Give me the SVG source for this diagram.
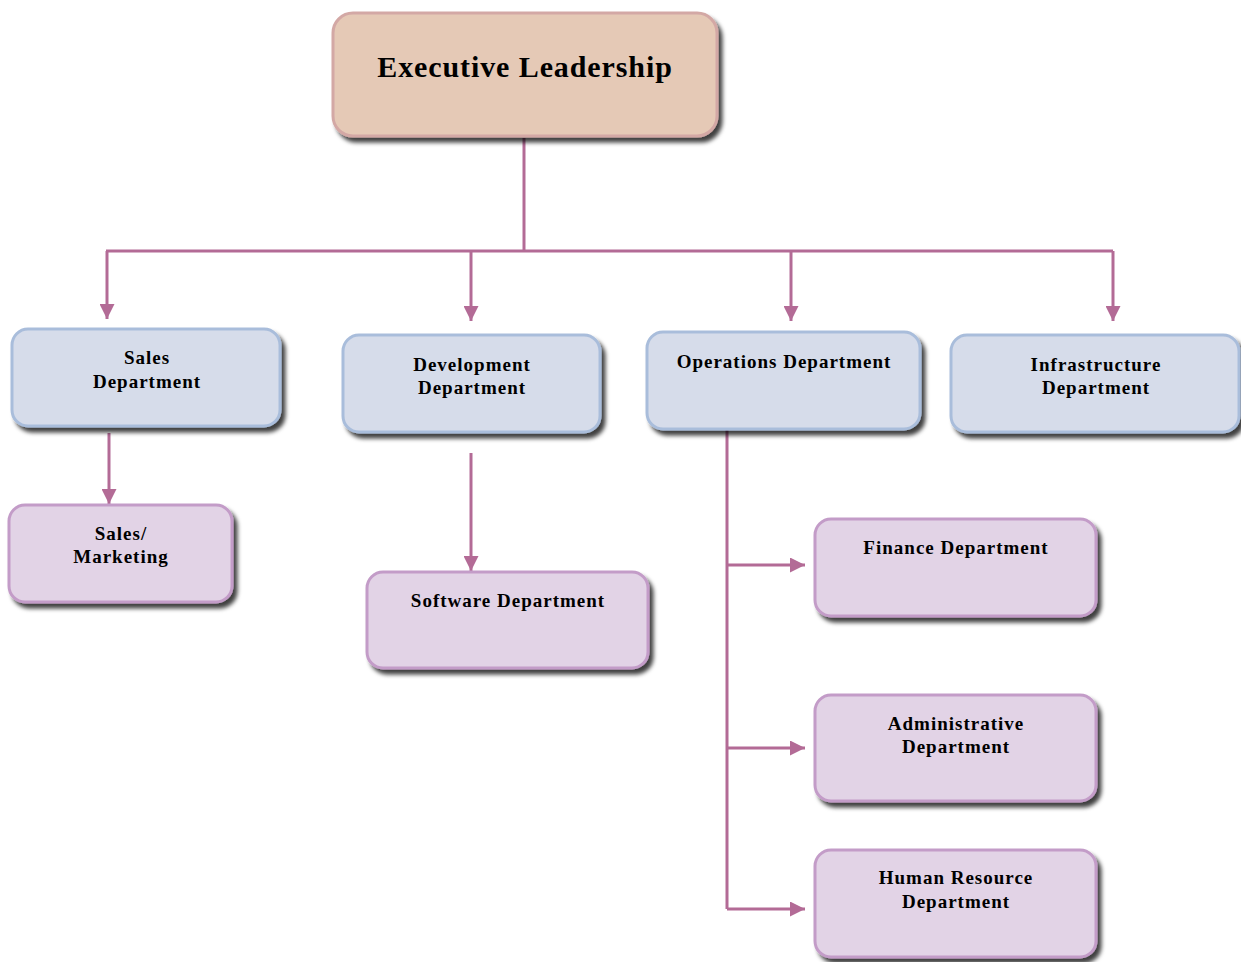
<svg xmlns="http://www.w3.org/2000/svg" width="1241" height="962" viewBox="0 0 1241 962">
<defs>
<filter id="sh" x="-10%" y="-10%" width="130%" height="140%">
<feDropShadow dx="4" dy="5" stdDeviation="2" flood-color="#000" flood-opacity="0.75"/>
</filter>
<marker id="ah" viewBox="0 0 10 10" refX="10" refY="5" markerWidth="16" markerHeight="15" orient="auto" markerUnits="userSpaceOnUse">
<path d="M0,0 L10,5 L0,10 Z" fill="#b36b96"/>
</marker>
</defs>
<style>
.exec{fill:#e5c9b6;stroke:#d3a8a5;stroke-width:3;filter:url(#sh)}
.blue{fill:#d6dcea;stroke:#a9bddb;stroke-width:3;filter:url(#sh)}
.pur{fill:#e2d3e6;stroke:#c39cc8;stroke-width:3;filter:url(#sh)}
.t{font-family:"Liberation Serif","Times New Roman",serif;font-weight:bold;fill:#000;text-anchor:middle;font-size:19px;letter-spacing:1px}
.big{font-size:30px;letter-spacing:0.9px}
.c{fill:none;stroke:#b36b96;stroke-width:3}
.a{marker-end:url(#ah)}
</style>
<rect width="1241" height="962" fill="#fff"/>
<g id="connectors">
<path class="c" d="M524,138 V251"/>
<path class="c" d="M106,251 H1113"/>
<path class="c a" d="M107,251 V319"/>
<path class="c a" d="M471,251 V321"/>
<path class="c a" d="M791,251 V321"/>
<path class="c a" d="M1113,251 V321"/>
<path class="c a" d="M109,433 V504"/>
<path class="c a" d="M471,453 V571"/>
<path class="c" d="M727,430 V909"/>
<path class="c a" d="M727,565 H805"/>
<path class="c a" d="M727,748 H805"/>
<path class="c a" d="M727,909 H805"/>
</g>
<g id="exec">
<rect class="exec" x="333" y="13" width="384" height="123" rx="20"/>
<text class="t big" x="525" y="77">Executive Leadership</text>
</g>
<g id="sales">
<rect class="blue" x="12" y="329" width="268" height="97" rx="16"/>
<text class="t" x="147" y="364">Sales</text>
<text class="t" x="147" y="388">Department</text>
</g>
<g id="development">
<rect class="blue" x="343" y="335" width="257" height="97" rx="16"/>
<text class="t" x="472" y="371">Development</text>
<text class="t" x="472" y="394">Department</text>
</g>
<g id="operations">
<rect class="blue" x="647" y="332" width="273" height="97" rx="16"/>
<text class="t" x="784" y="368">Operations Department</text>
</g>
<g id="infrastructure">
<rect class="blue" x="951" y="335" width="288" height="97" rx="16"/>
<text class="t" x="1096" y="371">Infrastructure</text>
<text class="t" x="1096" y="394">Department</text>
</g>
<g id="salesmarketing">
<rect class="pur" x="9" y="505" width="223" height="97" rx="16"/>
<text class="t" x="121" y="540">Sales/</text>
<text class="t" x="121" y="563">Marketing</text>
</g>
<g id="software">
<rect class="pur" x="367" y="572" width="281" height="96" rx="16"/>
<text class="t" x="508" y="607">Software Department</text>
</g>
<g id="finance">
<rect class="pur" x="815" y="519" width="281" height="97" rx="16"/>
<text class="t" x="956" y="554">Finance Department</text>
</g>
<g id="administrative">
<rect class="pur" x="815" y="695" width="281" height="106" rx="16"/>
<text class="t" x="956" y="730">Administrative</text>
<text class="t" x="956" y="753">Department</text>
</g>
<g id="hr">
<rect class="pur" x="815" y="850" width="281" height="107" rx="16"/>
<text class="t" x="956" y="884">Human Resource</text>
<text class="t" x="956" y="908">Department</text>
</g>
</svg>
